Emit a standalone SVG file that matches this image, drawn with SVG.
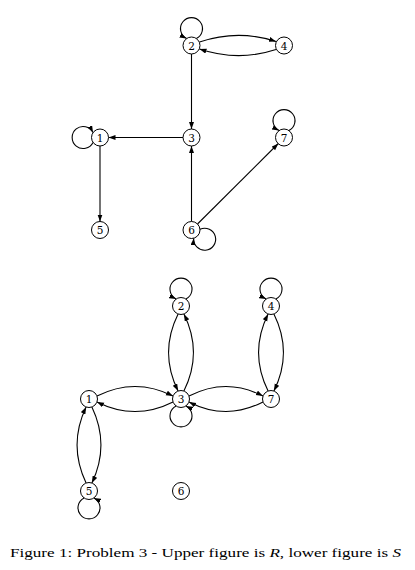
<svg xmlns="http://www.w3.org/2000/svg" width="415" height="570" viewBox="0 0 415 570">
<defs>
<marker id="ah" markerUnits="userSpaceOnUse" markerWidth="8" markerHeight="6" refX="7" refY="2.5" orient="auto">
<path d="M0,0 L7,2.5 L0,5 z" fill="#000"/>
</marker>
<style>
.node circle{fill:#fff;stroke:#000;stroke-width:1}
.node text{font-family:"DejaVu Serif",serif;font-size:10.5px;text-anchor:middle;fill:#000}
.e{fill:none;stroke:#000;stroke-width:1.1;marker-end:url(#ah)}
</style>
</defs>
<rect width="415" height="570" fill="#fff"/>
<g id="connectors">
<path class="e" d="M199.5,42 Q238,29 276,41.5"/>
<path class="e" d="M276,49.5 Q238,62 199.5,49"/>
<path class="e" d="M191.5,54 L191.5,129"/>
<path class="e" d="M183,137.5 L108.5,137.5"/>
<path class="e" d="M100,146 L100,221.5"/>
<path class="e" d="M191.5,221.5 L191.5,146"/>
<path class="e" d="M197.5,224 L278.3,143.5"/>
<path class="e" d="M196.4,38.5 A11 11 0 1 0 186.6,38.5"/>
<path class="e" d="M93,142.4 A11 11 0 1 1 93,132.6"/>
<path class="e" d="M288.9,130.5 A11 11 0 1 0 279.1,130.5"/>
<path class="e" d="M200,229.3 A11 11 0 1 1 193.7,238.2"/>
<path class="e" d="M178.1,314 Q159,352.5 178.1,391"/>
<path class="e" d="M183.9,391 Q203,352.5 183.9,314"/>
<path class="e" d="M268.1,391 Q249,352.5 268.1,314"/>
<path class="e" d="M273.9,314 Q293,352.5 273.9,391"/>
<path class="e" d="M97,396.1 Q135,377 173,396.1"/>
<path class="e" d="M173,401.9 Q135,421 97,401.9"/>
<path class="e" d="M189,396.1 Q226,377 263,396.1"/>
<path class="e" d="M263,401.9 Q226,421 189,401.9"/>
<path class="e" d="M86.1,483 Q68,445 86.1,407"/>
<path class="e" d="M91.9,407 Q110,445 91.9,483"/>
<path class="e" d="M185.9,299 A11 11 0 1 0 176.1,299"/>
<path class="e" d="M275.9,299 A11 11 0 1 0 266.1,299"/>
<path class="e" d="M176.1,406 A11 11 0 1 0 185.9,406"/>
<path class="e" d="M84.1,498 A11 11 0 1 0 93.9,498"/>
</g>
<g id="R1" class="node"><circle cx="100" cy="137.5" r="8.5"/><text x="100" y="141.5">1</text></g>
<g id="R2" class="node"><circle cx="191.5" cy="45.5" r="8.5"/><text x="191.5" y="49.5">2</text></g>
<g id="R3" class="node"><circle cx="191.5" cy="137.5" r="8.5"/><text x="191.5" y="141.5">3</text></g>
<g id="R4" class="node"><circle cx="284" cy="45.5" r="8.5"/><text x="284" y="49.5">4</text></g>
<g id="R5" class="node"><circle cx="100" cy="230" r="8.5"/><text x="100" y="234">5</text></g>
<g id="R6" class="node"><circle cx="191.5" cy="230" r="8.5"/><text x="191.5" y="234">6</text></g>
<g id="R7" class="node"><circle cx="284" cy="137.5" r="8.5"/><text x="284" y="141.5">7</text></g>
<g id="S1" class="node"><circle cx="89" cy="399" r="8.5"/><text x="89" y="403">1</text></g>
<g id="S2" class="node"><circle cx="181" cy="306" r="8.5"/><text x="181" y="310">2</text></g>
<g id="S3" class="node"><circle cx="181" cy="399" r="8.5"/><text x="181" y="403">3</text></g>
<g id="S4" class="node"><circle cx="271" cy="306" r="8.5"/><text x="271" y="310">4</text></g>
<g id="S5" class="node"><circle cx="89" cy="491" r="8.5"/><text x="89" y="495">5</text></g>
<g id="S6" class="node"><circle cx="181" cy="491" r="8.5"/><text x="181" y="495">6</text></g>
<g id="S7" class="node"><circle cx="271" cy="399" r="8.5"/><text x="271" y="403">7</text></g>
<text font-family="Liberation Serif" font-size="12.5" x="10" y="557" textLength="391" lengthAdjust="spacingAndGlyphs">Figure 1:  Problem 3 - Upper figure is <tspan font-style="italic">R</tspan>, lower figure is <tspan font-style="italic">S</tspan></text>
</svg>
